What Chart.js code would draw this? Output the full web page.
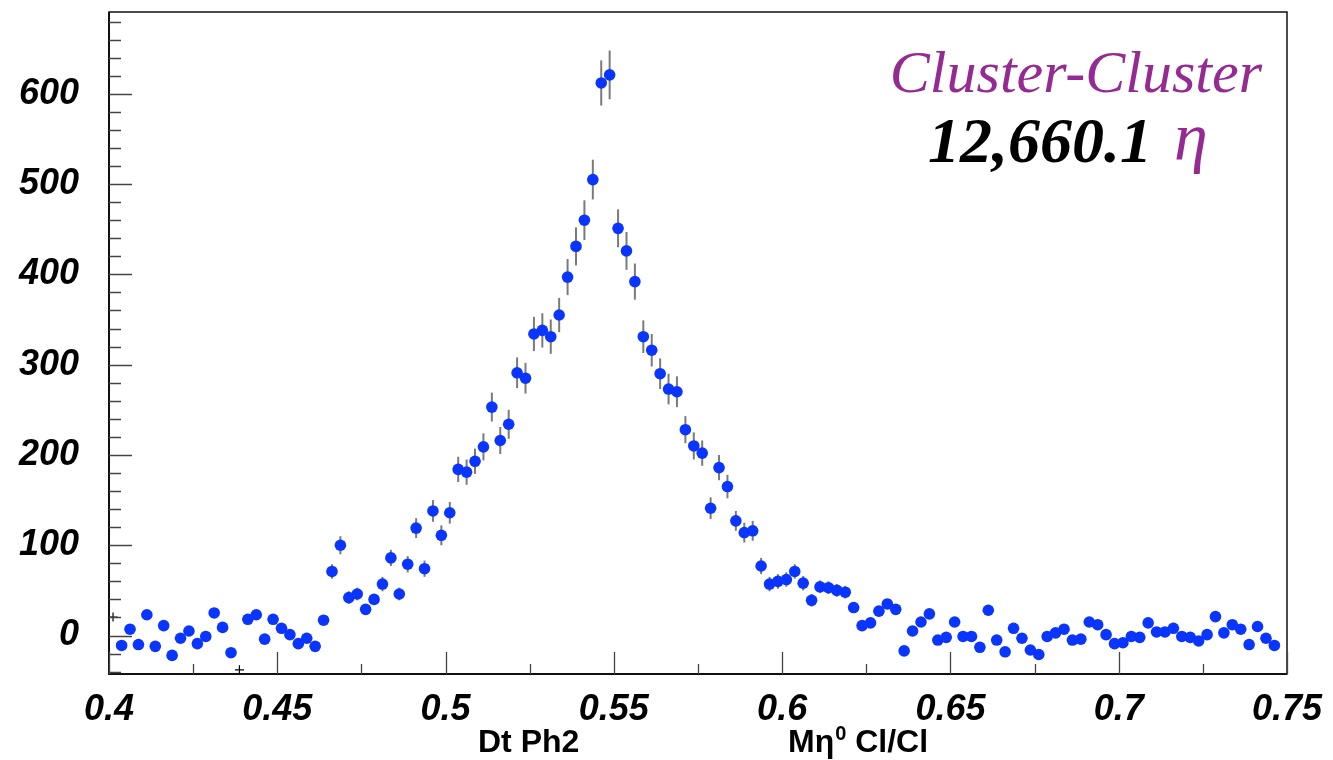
<!DOCTYPE html>
<html>
<head>
<meta charset="utf-8">
<script src="https://cdn.jsdelivr.net/npm/chart.js@4.4.1/dist/chart.umd.min.js"></script>
<style>
  html, body { margin: 0; padding: 0; background: #fff; }
  #wrap { width: 1333px; height: 760px; }
</style>
</head>
<body>
<div id="wrap"><canvas id="chart" width="1333" height="760"></canvas></div>
<script>
// histogram binning (Mass axis)
const binLow = 0.4025;
const binWidth = 0.0025;

// bin contents (null = empty bin)
const counts = [
  -11, 7, -10, 23, -12, 11, -22, -3, 5, -9,
  -1, 25, 9, -19, null, 18, 23, -4, 18, 8,
  1, -9, -3, -12, 17, 71, 100, 42, 46, 29,
  40, 57, 86, 46, 79, 119, 74, 138, 111, 136,
  184, 181, 193, 209, 253, 216, 234, 291, 285, 334,
  338, 331, 355, 397, 431, 460, 505, 612, 621, 451,
  426, 392, 331, 316, 290, 273, 270, 228, 210, 202,
  141, 186, 165, 127, 114, 116, 77, 57, 60, 62,
  71, 58, 39, 54, 53, 50, 48, 31, 11, 14,
  27, 35, 29, -17, 5, 15, 24, -5, -2, 15,
  -1, -1, -13, 28, -5, -18, 8, -3, -16, -21,
  -1, 3, 7, -5, -4, 15, 12, 1, -9, -8,
  -1, -2, 14, 4, 4, 8, -1, -2, -6, 1,
  21, 3, 12, 7, -10, 10, -3, -11
];

// error bar half lengths
const errors = [
  5, 5, 5, 5, 5, 5, 5, 5, 5, 5,
  5, 5, 5, 5, 0, 5, 5, 5, 5, 5,
  5, 5, 5, 5, 5, 8, 10, 7, 7, 6,
  6, 8, 9, 7, 9, 11, 9, 12, 11, 12,
  14, 14, 14, 15, 16, 15, 16, 17, 17, 19,
  19, 19, 19, 20, 21, 22, 22, 25, 27, 21,
  21, 20, 18, 18, 17, 17, 17, 15, 15, 14,
  12, 14, 13, 11, 11, 11, 9, 8, 8, 8,
  8, 8, 7, 7, 7, 7, 7, 6, 5, 5,
  5, 5, 5, 5, 5, 5, 5, 5, 5, 5,
  5, 5, 5, 5, 5, 5, 5, 5, 5, 5,
  5, 5, 5, 5, 5, 5, 5, 5, 5, 5,
  5, 5, 5, 5, 5, 5, 5, 5, 5, 5,
  5, 5, 5, 5, 5, 5, 5, 5
];

// stray "+" markers seen on the plot
const crossX = [0.4012, 0.43875];
const crossY = [20.5, -38];

const xMin = 0.4, xMax = 0.75, xStep = 0.05;
const yMin = -42.6, yMax = 690.6, yStep = 100;

const points = counts.map((c, i) => ({ x: binLow + binWidth * i + binWidth / 2, y: c }));
const crosses = crossX.map((x, i) => ({ x: x, y: crossY[i] }));

const tickFont = { family: 'Liberation Sans', size: 36, style: 'italic', weight: 'bold' };

const errorBars = {
  id: 'errorBars',
  beforeDatasetsDraw(chart) {
    const { ctx, scales: { x, y } } = chart;
    ctx.save();
    ctx.strokeStyle = '#7a7a7a';
    ctx.lineWidth = 2;
    points.forEach((p, i) => {
      if (p.y === null || !errors[i]) return;
      const px = x.getPixelForValue(p.x);
      ctx.beginPath();
      ctx.moveTo(px, y.getPixelForValue(p.y - errors[i]));
      ctx.lineTo(px, y.getPixelForValue(p.y + errors[i]));
      ctx.stroke();
    });
    ctx.restore();
  }
};

// ROOT style frame with ticks pointing inwards
const frame = {
  id: 'frame',
  afterDatasetsDraw(chart) {
    const { ctx, chartArea: a, scales: { x, y } } = chart;
    ctx.save();
    ctx.strokeStyle = '#111';
    ctx.lineWidth = 1.5;
    ctx.strokeRect(a.left, a.top, a.right - a.left, a.bottom - a.top);
    ctx.lineWidth = 2;
    ctx.beginPath();
    ctx.moveTo(a.left, a.top); ctx.lineTo(a.left, a.bottom); ctx.lineTo(a.right, a.bottom);
    ctx.stroke();

    ctx.lineWidth = 1.3;
    ctx.strokeStyle = '#444';
    ctx.beginPath();
    for (let v = xMin; v <= xMax + 1e-9; v += xStep / 2) {
      const px = Math.round(x.getPixelForValue(v)) + 0.5;
      const k = Math.round((v - xMin) / (xStep / 2));
      const len = k % 2 === 0 ? 22 : 10;
      ctx.moveTo(px, a.bottom);
      ctx.lineTo(px, a.bottom - len);
    }
    for (let v = -40; v <= yMax; v += 20) {
      const py = Math.round(y.getPixelForValue(v)) + 0.5;
      const len = v % 100 === 0 ? 23 : 12;
      ctx.moveTo(a.left, py);
      ctx.lineTo(a.left + len, py);
    }
    ctx.stroke();
    ctx.restore();
  }
};

const labels = {
  id: 'labels',
  afterDraw(chart) {
    const { ctx } = chart;
    ctx.save();
    ctx.textBaseline = 'alphabetic';

    // axis title
    ctx.fillStyle = '#000';
    ctx.font = 'bold 32px "Liberation Sans"';
    ctx.textAlign = 'left';
    ctx.fillText('Dt Ph2', 478, 752);
    let xx = 788;
    ctx.fillText('M\u03b7', xx, 752);
    xx += ctx.measureText('M\u03b7').width + 1;
    ctx.font = 'bold 20px "Liberation Sans"';
    ctx.fillText('0', xx, 740);
    xx += ctx.measureText('0').width;
    ctx.font = 'bold 32px "Liberation Sans"';
    ctx.fillText(' Cl/Cl', xx, 752);

    // text box
    ctx.textAlign = 'right';
    ctx.fillStyle = '#952a92';
    ctx.font = 'italic 60px "Liberation Serif"';
    ctx.fillText('Cluster-Cluster', 1262, 92);

    ctx.fillStyle = '#000';
    ctx.font = 'bold italic 64px "Liberation Serif"';
    ctx.fillText('12,660.1', 1152, 162);
    ctx.textAlign = 'left';
    ctx.fillStyle = '#952a92';
    ctx.font = 'italic 68px "Liberation Serif"';
    ctx.fillText('\u03b7', 1174, 160);
    ctx.restore();
  }
};

new Chart(document.getElementById('chart').getContext('2d'), {
  type: 'scatter',
  data: {
    datasets: [
      {
        label: 'counts',
        data: points,
        pointRadius: 5.8,
        pointBackgroundColor: '#0a35ff',
        pointBorderWidth: 0,
        showLine: false
      },
      {
        label: 'stray',
        data: crosses,
        pointStyle: 'cross',
        pointRadius: 4.5,
        pointBorderColor: '#000',
        pointBorderWidth: 1.2,
        showLine: false
      }
    ]
  },
  options: {
    responsive: false,
    animation: false,
    layout: { padding: { left: 0, right: 46, top: 12, bottom: 0 } },
    plugins: { legend: { display: false }, tooltip: { enabled: false } },
    scales: {
      x: {
        type: 'linear',
        min: xMin,
        max: xMax,
        afterFit(s) { s.height = 86; s.paddingLeft = 0; s.paddingRight = 0; },
        grid: { display: false, drawTicks: false },
        border: { display: false },
        ticks: {
          stepSize: xStep,
          padding: 14,
          color: '#000',
          font: tickFont,
          maxRotation: 0,
          autoSkip: false,
          callback: v => String(+v.toFixed(2))
        }
      },
      y: {
        min: yMin,
        max: yMax,
        afterFit(s) { s.width = 109; s.paddingTop = 0; s.paddingBottom = 0; },
        grid: { display: false, drawTicks: false },
        border: { display: false },
        ticks: {
          stepSize: yStep,
          includeBounds: false,
          padding: 30,
          color: '#000',
          font: tickFont
        }
      }
    }
  },
  plugins: [errorBars, frame, labels]
});
</script>
</body>
</html>
